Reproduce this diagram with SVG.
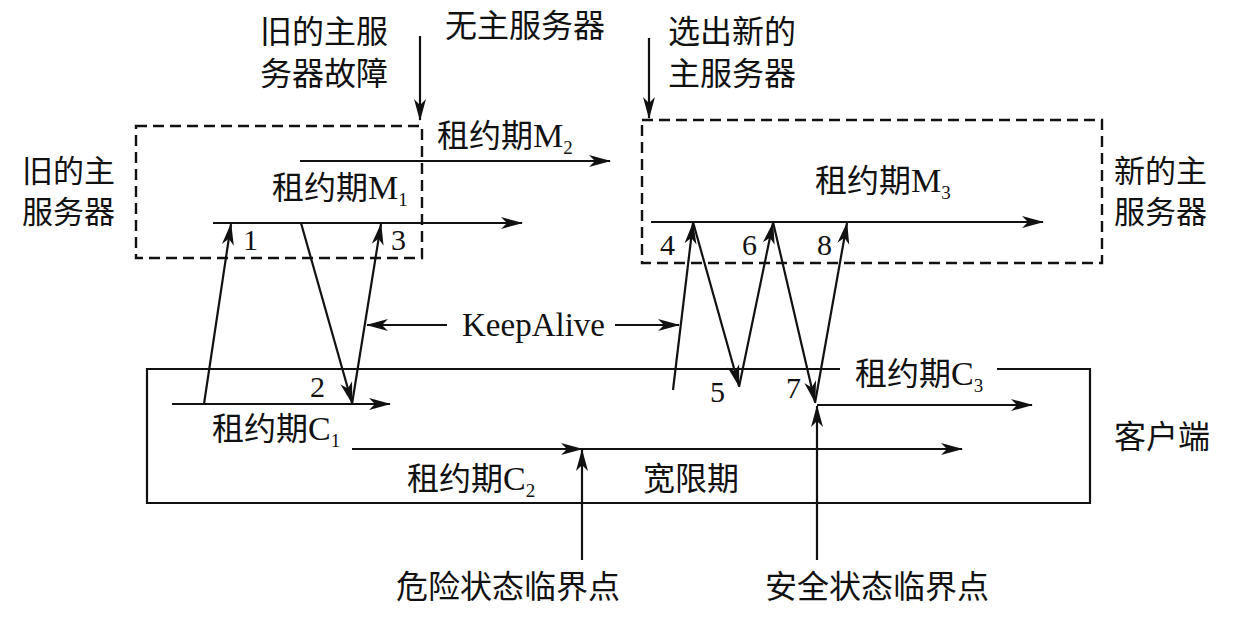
<svg xmlns="http://www.w3.org/2000/svg" width="1252" height="628" viewBox="0 0 1252 628">
<style>
.cn{font-family:"Noto Sans CJK SC","Noto Sans",sans-serif;font-size:32px;fill:#111}
.side{font-size:31px}
.ro{font-family:"Liberation Serif",serif;font-size:30px;fill:#111}
.big{font-size:34px}
.ka{font-size:33px}
.sub{font-family:"Liberation Serif",serif;font-size:19px}
.ln{stroke:#111;stroke-width:2.2;fill:none}
.dash{stroke:#111;stroke-width:2.4;fill:none;stroke-dasharray:11 6}
.arr{stroke:#111;stroke-width:2.2;fill:none;marker-end:url(#ah)}
</style>
<defs>
<marker id="ah" markerUnits="userSpaceOnUse" markerWidth="22" markerHeight="13" viewBox="0 0 22 13" refX="21" refY="6.5" orient="auto">
<path d="M0,0.5 L22,6.5 L0,12.5 L6,6.5 Z" fill="#111"/>
</marker>
</defs>
<rect width="1252" height="628" fill="#fff"/>

<g id="old-server">
<rect class="dash" x="136" y="126" width="286" height="132"/>
<text class="cn side" x="22" y="182">旧的主</text>
<text class="cn side" x="22" y="223">服务器</text>
</g>

<g id="new-server">
<rect class="dash" x="642" y="120" width="460" height="143"/>
<text class="cn side" x="1114" y="182">新的主</text>
<text class="cn side" x="1114" y="223">服务器</text>
</g>

<g id="client">
<path class="ln" d="M840,369 H147 V503 H1090 V369 H997"/>
<text class="cn" x="1114" y="448">客户端</text>
</g>

<g id="top-labels">
<text class="cn" x="260" y="43">旧的主服</text>
<text class="cn" x="260" y="85">务器故障</text>
<text class="cn" x="445" y="37">无主服务器</text>
<text class="cn" x="668" y="43">选出新的</text>
<text class="cn" x="668" y="85">主服务器</text>
</g>

<g id="bottom-labels">
<text class="cn" x="396" y="598">危险状态临界点</text>
<text class="cn" x="765" y="598">安全状态临界点</text>
</g>

<g id="lease-labels">
<text class="cn" x="437" y="147">租约期<tspan class="ro big">M</tspan><tspan class="sub" dy="7">2</tspan></text>
<text class="cn" x="272" y="199">租约期<tspan class="ro big">M</tspan><tspan class="sub" dy="7">1</tspan></text>
<text class="cn" x="815" y="192">租约期<tspan class="ro big">M</tspan><tspan class="sub" dy="7">3</tspan></text>
<text class="cn" x="855" y="385">租约期<tspan class="ro big">C</tspan><tspan class="sub" dy="7">3</tspan></text>
<text class="cn" x="212" y="440">租约期<tspan class="ro big">C</tspan><tspan class="sub" dy="7">1</tspan></text>
<text class="cn" x="407" y="490">租约期<tspan class="ro big">C</tspan><tspan class="sub" dy="7">2</tspan></text>
<text class="cn" x="643" y="490">宽限期</text>
<text class="ro ka" x="462" y="336">KeepAlive</text>
</g>

<g id="numbers">
<text class="ro" x="243" y="250">1</text>
<text class="ro" x="391" y="250">3</text>
<text class="ro" x="310" y="397">2</text>
<text class="ro" x="660" y="255">4</text>
<text class="ro" x="742" y="255">6</text>
<text class="ro" x="817" y="255">8</text>
<text class="ro" x="710" y="402">5</text>
<text class="ro" x="786" y="398">7</text>
</g>

<g id="connectors">
<line class="arr" x1="300" y1="161" x2="610" y2="161"/>
<line class="arr" x1="213" y1="223" x2="522" y2="223"/>
<line class="arr" x1="651" y1="222" x2="1043" y2="222"/>
<line class="arr" x1="172" y1="404" x2="390" y2="404"/>
<line class="arr" x1="352" y1="449" x2="582" y2="449"/>
<line class="arr" x1="580" y1="449" x2="962" y2="449"/>
<line class="arr" x1="817" y1="405" x2="1032" y2="405"/>
<line class="arr" x1="420" y1="36" x2="420" y2="120"/>
<line class="arr" x1="649" y1="38" x2="649" y2="118"/>
<line class="arr" x1="582" y1="560" x2="582" y2="450"/>
<line class="arr" x1="817" y1="560" x2="817" y2="406"/>
<line class="arr" x1="204" y1="404" x2="231" y2="224"/>
<line class="arr" x1="301" y1="223" x2="352" y2="403"/>
<line class="arr" x1="352" y1="404" x2="381" y2="224"/>
<line class="arr" x1="673" y1="390" x2="693" y2="223"/>
<line class="arr" x1="693" y1="222" x2="739" y2="386"/>
<line class="arr" x1="739" y1="387" x2="773" y2="223"/>
<line class="arr" x1="773" y1="222" x2="815" y2="402"/>
<line class="arr" x1="815" y1="403" x2="847" y2="223"/>
<line class="arr" x1="447" y1="325" x2="367" y2="325"/>
<line class="arr" x1="615" y1="325" x2="679" y2="325"/>
</g>
</svg>
